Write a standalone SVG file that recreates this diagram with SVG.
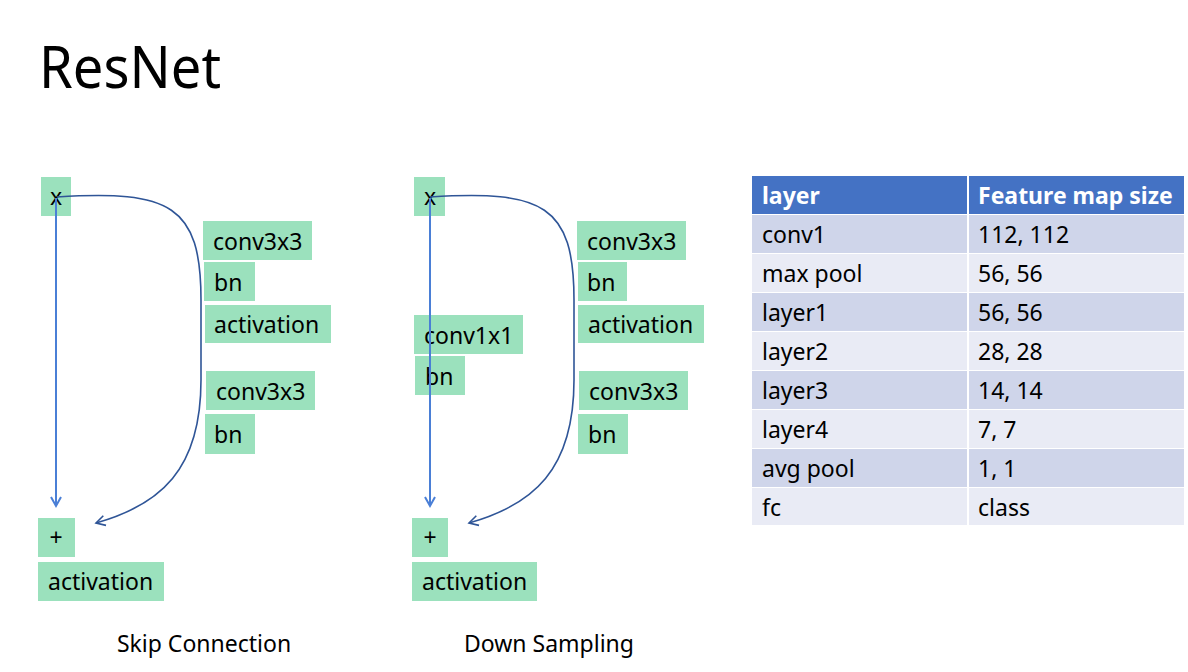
<svg xmlns="http://www.w3.org/2000/svg" width="1188" height="672" viewBox="0 0 1188 672">
<style>
text{font-family:"Noto Sans","Open Sans","DejaVu Sans",sans-serif;fill:#000}
.n rect{fill:#9BE1BD}
.n text{font-size:23px}
.c{text-anchor:middle}
.t{font-size:23px}
.h{font-size:23px;font-weight:bold;fill:#fff}
.r1{fill:#CFD5EA}
.r2{fill:#E9EBF5}
.lbl{font-size:23px;text-anchor:middle}
</style>
<defs>
<marker id="ah1" markerWidth="14" markerHeight="14" refX="11" refY="7" orient="auto" markerUnits="userSpaceOnUse">
<path d="M2,2 L11,7 L2,12" fill="none" stroke="#4A7FD6" stroke-width="2"/>
</marker>
<marker id="ah2" markerWidth="14" markerHeight="14" refX="11" refY="7" orient="auto" markerUnits="userSpaceOnUse">
<path d="M2,2 L11,7 L2,12" fill="none" stroke="#2F5597" stroke-width="1.6"/>
</marker>
</defs>
<rect width="1188" height="672" fill="#fff"/>
<text x="39" y="88" font-size="58" textLength="182" lengthAdjust="spacingAndGlyphs">ResNet</text>

<!-- Skip Connection -->
<g id="s_x" class="n"><rect x="41" y="177" width="30" height="39"/><text class="c" x="56" y="205">x</text></g>
<g id="s_conv1" class="n"><rect x="203" y="221" width="109" height="39"/><text x="213" y="250">conv3x3</text></g>
<g id="s_bn1" class="n"><rect x="204" y="262" width="51" height="39"/><text x="214" y="291">bn</text></g>
<g id="s_act1" class="n"><rect x="205" y="305" width="126" height="38"/><text x="214" y="333">activation</text></g>
<g id="s_conv2" class="n"><rect x="206" y="371" width="109" height="39"/><text x="216" y="400">conv3x3</text></g>
<g id="s_bn2" class="n"><rect x="205" y="414" width="50" height="40"/><text x="214" y="443">bn</text></g>
<g id="s_plus" class="n"><rect x="38" y="518" width="37" height="39"/><text class="c" x="56" y="546">+</text></g>
<g id="s_act2" class="n"><rect x="38" y="562" width="126" height="39"/><text x="48" y="590">activation</text></g>

<!-- Down Sampling -->
<g id="d_x" class="n"><rect x="414" y="177" width="31" height="39"/><text class="c" x="430" y="205">x</text></g>
<g id="d_conv1" class="n"><rect x="577" y="221" width="109" height="39"/><text x="587" y="250">conv3x3</text></g>
<g id="d_bn1" class="n"><rect x="578" y="262" width="49" height="39"/><text x="587" y="291">bn</text></g>
<g id="d_act1" class="n"><rect x="578" y="305" width="126" height="38"/><text x="588" y="333">activation</text></g>
<g id="d_c11" class="n"><rect x="414" y="315" width="109" height="39"/><text x="424" y="344">conv1x1</text></g>
<g id="d_bn11" class="n"><rect x="415" y="356" width="50" height="39"/><text x="425" y="385">bn</text></g>
<g id="d_conv2" class="n"><rect x="579" y="371" width="109" height="39"/><text x="589" y="400">conv3x3</text></g>
<g id="d_bn2" class="n"><rect x="578" y="414" width="50" height="40"/><text x="588" y="443">bn</text></g>
<g id="d_plus" class="n"><rect x="412" y="518" width="36" height="39"/><text class="c" x="430" y="546">+</text></g>
<g id="d_act2" class="n"><rect x="412" y="562" width="125" height="39"/><text x="422" y="590">activation</text></g>

<g id="connectors" fill="none">
<line x1="56" y1="198" x2="56" y2="506" stroke="#4A7FD6" stroke-width="2" marker-end="url(#ah1)"/>
<path d="M57,197 C170,190 201,205 201,300 L201,380 C201,470 160,505 96,523" stroke="#2F5597" stroke-width="1.6" marker-end="url(#ah2)"/>
<line x1="430" y1="198" x2="430" y2="506" stroke="#4A7FD6" stroke-width="2" marker-end="url(#ah1)"/>
<path d="M430,197 C543,190 574,205 574,300 L574,380 C574,470 533,505 469,523" stroke="#2F5597" stroke-width="1.6" marker-end="url(#ah2)"/>
</g>

<g id="table">
<rect x="752" y="176" width="432" height="38" fill="#4472C4"/>
<rect class="r1" x="752" y="215" width="432" height="38"/>
<rect class="r2" x="752" y="254" width="432" height="38"/>
<rect class="r1" x="752" y="293" width="432" height="38"/>
<rect class="r2" x="752" y="332" width="432" height="38"/>
<rect class="r1" x="752" y="371" width="432" height="38"/>
<rect class="r2" x="752" y="410" width="432" height="38"/>
<rect class="r1" x="752" y="449" width="432" height="38"/>
<rect class="r2" x="752" y="488" width="432" height="37"/>
<line x1="968" y1="176" x2="968" y2="525" stroke="#fff" stroke-width="2"/>
<text class="h" x="762" y="204">layer</text>
<text class="h" x="978" y="204">Feature map size</text>
<text class="t" x="762" y="243">conv1</text><text class="t" x="978" y="243">112, 112</text>
<text class="t" x="762" y="282">max pool</text><text class="t" x="978" y="282">56, 56</text>
<text class="t" x="762" y="321">layer1</text><text class="t" x="978" y="321">56, 56</text>
<text class="t" x="762" y="360">layer2</text><text class="t" x="978" y="360">28, 28</text>
<text class="t" x="762" y="399">layer3</text><text class="t" x="978" y="399">14, 14</text>
<text class="t" x="762" y="438">layer4</text><text class="t" x="978" y="438">7, 7</text>
<text class="t" x="762" y="477">avg pool</text><text class="t" x="978" y="477">1, 1</text>
<text class="t" x="762" y="516">fc</text><text class="t" x="978" y="516">class</text>
</g>

<text class="lbl" x="204" y="652">Skip Connection</text>
<text class="lbl" x="549" y="652">Down Sampling</text>
</svg>
